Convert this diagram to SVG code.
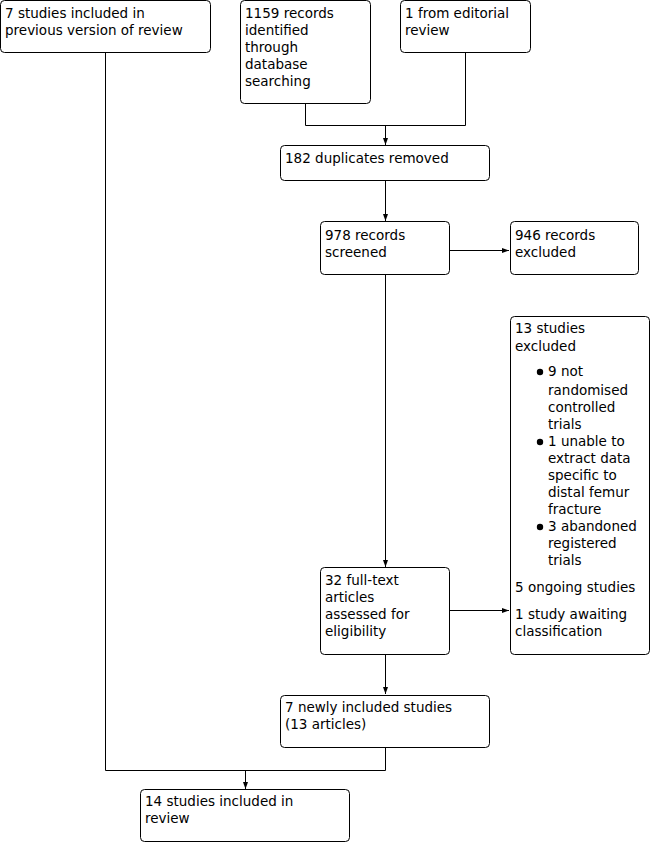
<svg xmlns="http://www.w3.org/2000/svg" width="651" height="843" viewBox="0 0 651 843">
<style>
.b{fill:#fff;stroke:#000;stroke-width:1}
.t{font-family:"DejaVu Sans",Verdana,sans-serif;font-size:13.5px;fill:#000}
.c{fill:none;stroke:#000;stroke-width:1}
</style>
<defs>
<marker id="a" markerWidth="8" markerHeight="6" refX="7" refY="3" orient="auto" markerUnits="userSpaceOnUse">
<path d="M0,0.5 L7,3 L0,5.5 Z" fill="#000"/>
</marker>
</defs>
<rect width="651" height="843" fill="#fff"/>
<g id="connectors">
<path class="c" d="M105.5,53 V770.5 H385.5 V747"/>
<path class="c" d="M245.5,770.5 V789" marker-end="url(#a)"/>
<path class="c" d="M305.5,104 V125.5 H465.5 V53"/>
<path class="c" d="M385.5,125.5 V145" marker-end="url(#a)"/>
<path class="c" d="M385.5,181 V221" marker-end="url(#a)"/>
<path class="c" d="M450,250.5 H509" marker-end="url(#a)"/>
<path class="c" d="M385.5,275 V567" marker-end="url(#a)"/>
<path class="c" d="M450,610.5 H509" marker-end="url(#a)"/>
<path class="c" d="M385.5,655 V694" marker-end="url(#a)"/>
</g>
<g id="n1"><rect class="b" x="0.5" y="0.5" width="210" height="52" rx="4"/>
<text class="t" x="5" y="18">7 studies included in</text><text class="t" x="5" y="35">previous version of review</text></g>
<g id="n2"><rect class="b" x="240.5" y="0.5" width="130" height="103" rx="4"/>
<text class="t" x="245" y="18">1159 records</text><text class="t" x="245" y="35">identified</text><text class="t" x="245" y="52">through</text><text class="t" x="245" y="69">database</text><text class="t" x="245" y="86">searching</text></g>
<g id="n3"><rect class="b" x="400.5" y="0.5" width="130" height="52" rx="4"/>
<text class="t" x="405" y="18">1 from editorial</text><text class="t" x="405" y="35">review</text></g>
<g id="n4"><rect class="b" x="280.5" y="145.5" width="209" height="35" rx="4"/>
<text class="t" x="285" y="163">182 duplicates removed</text></g>
<g id="n5"><rect class="b" x="320.5" y="221.5" width="129" height="53" rx="4"/>
<text class="t" x="325" y="240">978 records</text><text class="t" x="325" y="257">screened</text></g>
<g id="n6"><rect class="b" x="510.5" y="221.5" width="128" height="53" rx="4"/>
<text class="t" x="515" y="240">946 records</text><text class="t" x="515" y="257">excluded</text></g>
<g id="n7"><rect class="b" x="510.5" y="316.5" width="139" height="338" rx="4"/>
<text class="t" x="515" y="333">13 studies</text><text class="t" x="515" y="351">excluded</text>
<circle cx="540" cy="372" r="3.2"/><text class="t" x="548" y="376">9 not</text>
<text class="t" x="548" y="395">randomised</text><text class="t" x="548" y="412">controlled</text><text class="t" x="548" y="429">trials</text>
<circle cx="540" cy="442" r="3.2"/><text class="t" x="548" y="446">1 unable to</text>
<text class="t" x="548" y="463">extract data</text><text class="t" x="548" y="480">specific to</text><text class="t" x="548" y="497">distal femur</text><text class="t" x="548" y="514">fracture</text>
<circle cx="540" cy="527" r="3.2"/><text class="t" x="548" y="531">3 abandoned</text>
<text class="t" x="548" y="548">registered</text><text class="t" x="548" y="565">trials</text>
<text class="t" x="515" y="592">5 ongoing studies</text>
<text class="t" x="515" y="619">1 study awaiting</text><text class="t" x="515" y="636">classification</text></g>
<g id="n8"><rect class="b" x="320.5" y="567.5" width="129" height="87" rx="4"/>
<text class="t" x="325" y="585">32 full-text</text><text class="t" x="325" y="602">articles</text><text class="t" x="325" y="619">assessed for</text><text class="t" x="325" y="636">eligibility</text></g>
<g id="n9"><rect class="b" x="280.5" y="695.5" width="209" height="52" rx="4"/>
<text class="t" x="285" y="712">7 newly included studies</text><text class="t" x="285" y="729">(13 articles)</text></g>
<g id="n10"><rect class="b" x="140.5" y="789.5" width="209" height="52" rx="4"/>
<text class="t" x="145" y="806">14 studies included in</text><text class="t" x="145" y="823">review</text></g>
</svg>
